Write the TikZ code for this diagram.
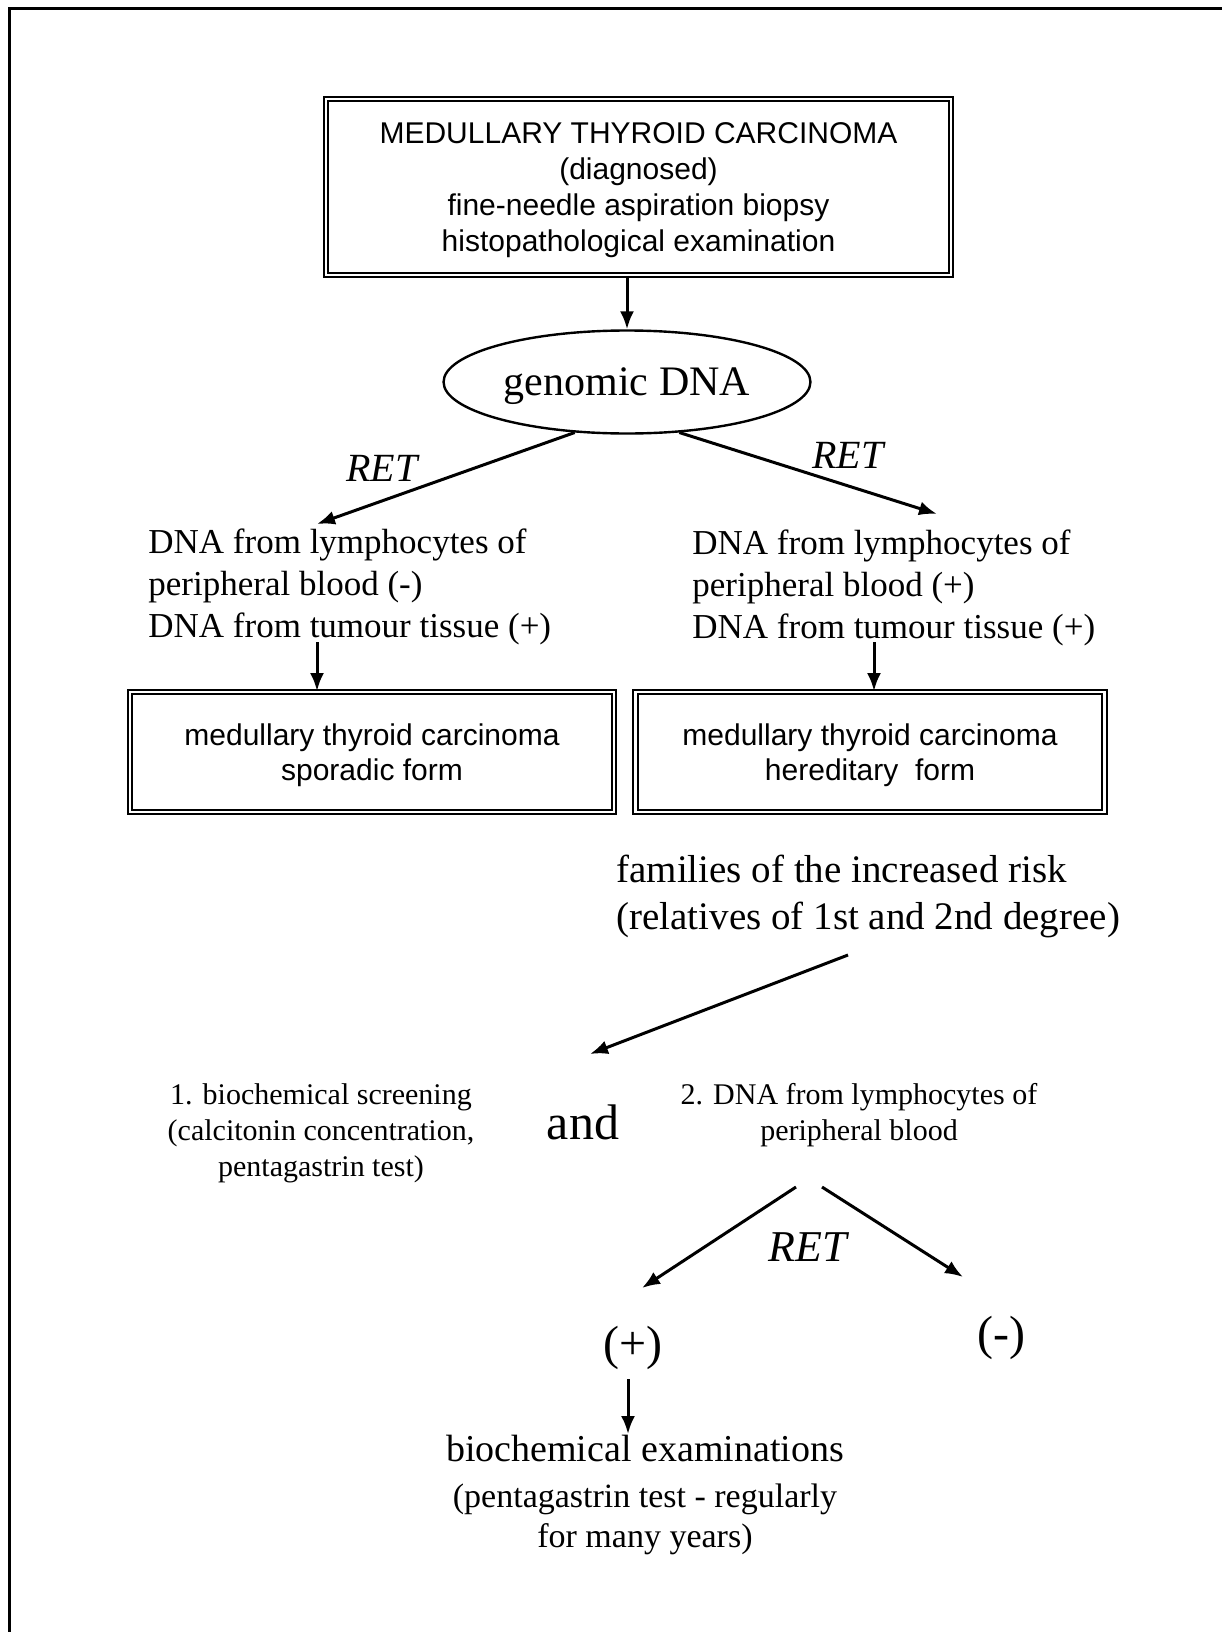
\documentclass[tikz,border=0pt]{standalone}
\usepackage{fontspec}
\setmainfont{Liberation Serif}
\setsansfont{Liberation Sans}
\usetikzlibrary{shapes.geometric,arrows.meta}

\begin{document}
\begin{tikzpicture}[x=0.5pt, y=-0.5pt,
    dbox/.style={draw, double, double distance=1.4pt, line width=0.9pt, align=center, font=\sffamily\fontsize{15}{17.5}\selectfont},
    txt/.style={align=left, inner sep=0pt, font=\fontsize{17.5}{21}\selectfont},
    arr/.style={-{Latex[length=9pt,width=7pt]}, line width=1.5pt},
    lbl/.style={font=\itshape\fontsize{20}{24}\selectfont}]

    \useasboundingbox (0,0) rectangle (1222,1632);

    % Frame, only left and top edge
    \draw[line width=1.5pt] (9,1632) -- (9,9) -- (1222,9);

    % Diagnosis box and genomic DNA
    \node[dbox, minimum width=312.5pt, minimum height=88pt, font=\sffamily\fontsize{15}{18}\selectfont, text depth=-2pt] (Top) at (638.5,187) {MEDULLARY THYROID CARCINOMA\\(diagnosed)\\fine-needle aspiration biopsy\\histopathological examination};
    \node[draw, ellipse, line width=1.2pt, minimum width=182pt, minimum height=51.5pt, font=\fontsize{21}{25}\selectfont] (G) at (627,382) {\raisebox{-2pt}[\height][\depth]{genomic DNA}};

    % Two results of the RET test
    \node[txt, anchor=west] (L) at (148,587) {DNA from lymphocytes of\\peripheral blood (-)\\DNA from tumour tissue (+)};
    \node[txt, anchor=west] (R) at (692,588) {DNA from lymphocytes of\\peripheral blood (+)\\DNA from tumour tissue (+)};
    \node[lbl] (ret1) at (382,468) {RET};
    \node[lbl] (ret2) at (848,455) {RET};

    % Forms of the carcinoma
    \node[dbox, minimum width=242pt, minimum height=60pt] (Ls) at (372,752) {\raisebox{-1.5pt}[\height][\depth]{\shortstack{medullary thyroid carcinoma\\[0.5pt]sporadic form}}};
    \node[dbox, minimum width=234.5pt, minimum height=60pt] (Rs) at (870,752) {\raisebox{-1.5pt}[\height][\depth]{\shortstack{medullary thyroid carcinoma\\[0.5pt]hereditary\ \ form}}};

    % Families and screening
    \node[txt, anchor=west, font=\fontsize{19.5}{23.5}\selectfont] (F) at (616,896.5) {families of the increased risk\\(relatives of 1st and 2nd degree)};
    \node[align=center, font=\fontsize{15}{18}\selectfont] (S1) at (321,1133) {1. biochemical screening\\(calcitonin concentration,\\pentagastrin test)};
    \node[font=\fontsize{25}{30}\selectfont] (And) at (583,1122) {and};
    \node[align=center, font=\fontsize{15}{18}\selectfont] (S2) at (859,1115) {2. DNA from lymphocytes of\\peripheral blood};
    \node[lbl, font=\itshape\fontsize{22}{26}\selectfont] (ret3) at (808,1247) {RET};
    \node[font=\fontsize{24}{28}\selectfont] (P) at (633,1348) {(+)};
    \node[font=\fontsize{24}{28}\selectfont] (N) at (1001,1338) {(-)};
    \node[align=center, font=\fontsize{17}{20}\selectfont] (E) at (645,1495) {{\fontsize{19}{23}\selectfont biochemical examinations}\\[3pt](pentagastrin test - regularly\\for many years)};

    % Arrow ends
    \coordinate (g1) at (317,524);
    \coordinate (g2) at (937,514);
    \coordinate (d1) at (317,642);
    \coordinate (d2) at (874,642);
    \coordinate (f1) at (848,955);
    \coordinate (f2) at (590,1054);
    \coordinate (b0) at (796,1187);
    \coordinate (b1) at (642,1288);
    \coordinate (b2) at (822,1187);
    \coordinate (b3) at (963,1277);
    \coordinate (e0) at (628,1379);
    \coordinate (e1) at (628,1434);

    % Arrows
    \draw[arr] (G.north |- Top.south) -- (G.north);
    \draw[arr] (G.-136) -- (g1);
    \draw[arr] (G.-44) -- (g2);
    \draw[arr] (d1) -- (d1 |- Ls.north);
    \draw[arr] (d2) -- (d2 |- Rs.north);
    \draw[arr] (f1) -- (f2);
    \draw[arr] (b0) -- (b1);
    \draw[arr] (b2) -- (b3);
    \draw[arr] (e0) -- (e1);

\end{tikzpicture}
\end{document}
